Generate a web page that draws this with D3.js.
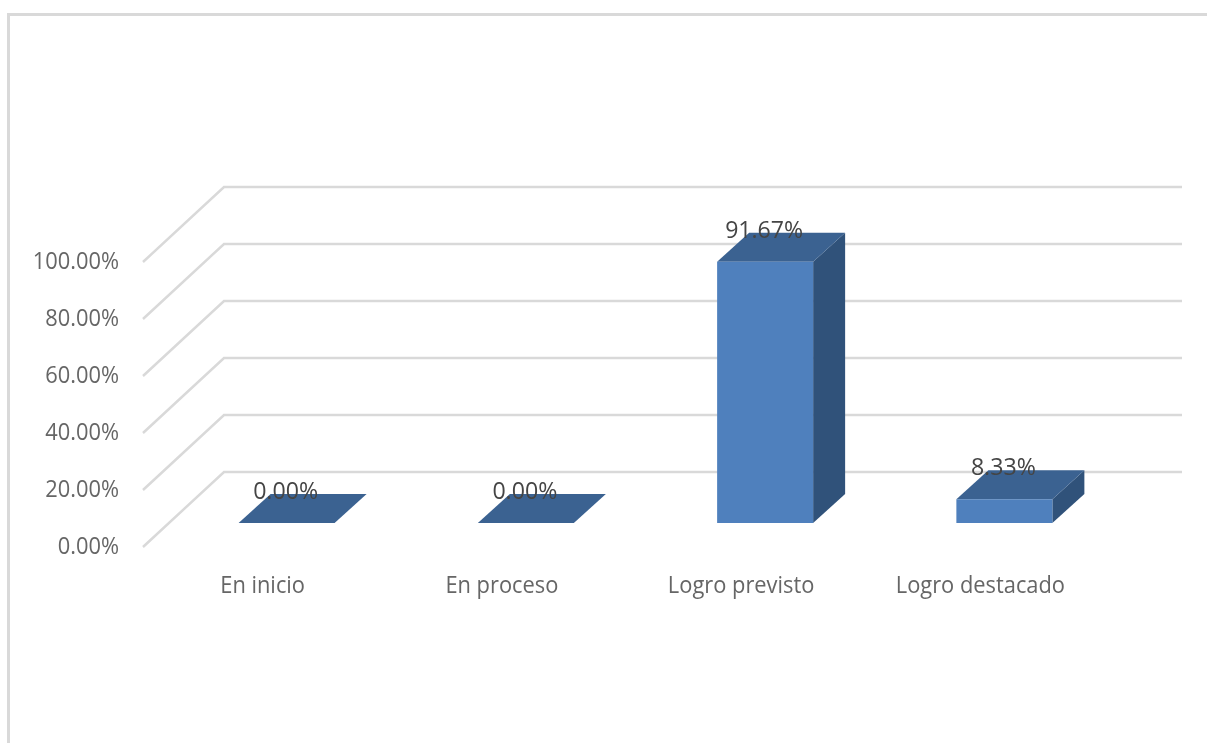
<!DOCTYPE html>
<html>
<head>
<meta charset="utf-8">
<script src="https://cdn.jsdelivr.net/npm/d3@7"></script>
<style>
  html, body { margin: 0; padding: 0; background: #fff; overflow: hidden; }
  text { font-family: "Open Sans", "Noto Sans", sans-serif; font-size: 23px; filter: url(#soft); }
  .axis text { fill: #666666; }
  .value-label { fill: #444444; }
</style>
</head>
<body>
<div id="chart"></div>
<script>
const categories = ["En inicio", "En proceso", "Logro previsto", "Logro destacado"];
const values = [0, 0, 91.67, 8.33];
const yTicks = [0, 20, 40, 60, 80, 100];

const svg = d3.select("#chart").append("svg")
  .attr("width", 1207)
  .attr("height", 743);

// Reference is a slightly blurry upscaled screenshot
svg.append("defs").append("filter")
  .attr("id", "soft")
  .append("feGaussianBlur")
  .attr("stdDeviation", 0.4);

// Picture frame
svg.append("path")
  .attr("d", "M8.5,743V14.5H1207")
  .attr("fill", "none")
  .attr("stroke", "#d9d9d9")
  .attr("stroke-width", 3);

// Scales, front plane of the 3D box
const x = d3.scaleBand()
  .domain(categories)
  .range([143, 1100]);

const y = d3.scaleLinear()
  .domain([0, 100])
  .range([547, 262]);

// Depth offsets of the 3D box and the bars
const wall = { dx: 81, dy: -75 };
const barDepth = { dx: 32, dy: -29 };
const barWidth = 96;
const barShiftX = 24;
const barShiftY = -24;

// Gridlines: side wall and back wall
svg.append("g")
  .selectAll("path")
  .data(yTicks)
  .join("path")
  .attr("d", d => `M143,${y(d)}l${wall.dx},${wall.dy}H1182`)
  .attr("fill", "none")
  .attr("stroke", "#d9d9d9")
  .attr("stroke-width", 2.5);

// Y axis
const yAxis = svg.append("g")
  .attr("class", "axis")
  .attr("transform", "translate(119,-0.5)")
  .call(d3.axisLeft(y)
    .tickValues(yTicks)
    .tickSize(0)
    .tickPadding(0)
    .tickFormat(d => d3.format(".2f")(d) + "%"));
yAxis.select(".domain").remove();
yAxis.selectAll("text")
  .style("font-size", "23px")
  .attr("textLength", function() { return this.getComputedTextLength() * 0.95; })
  .attr("lengthAdjust", "spacingAndGlyphs");

// Category axis
const xAxis = svg.append("g")
  .attr("class", "axis")
  .attr("transform", "translate(0,576.7)")
  .call(d3.axisBottom(x).tickSize(0).tickPadding(0));
xAxis.select(".domain").remove();
xAxis.selectAll("text")
  .style("font-size", "23px")
  .attr("textLength", function() { return this.getComputedTextLength() * 0.95; })
  .attr("lengthAdjust", "spacingAndGlyphs");

// Bars
const bars = svg.append("g").selectAll("g")
  .data(categories.map((c, i) => ({ c, v: values[i] })))
  .join("g");

bars.each(function(d) {
  const g = d3.select(this);
  const x0 = x(d.c) + (x.bandwidth() - barWidth) / 2 + barShiftX;
  const x1 = x0 + barWidth;
  const floor = y(0) + barShiftY;
  const top = y(d.v) + barShiftY;

  // Side face
  g.append("path")
    .attr("d", `M${x1},${floor}V${top}l${barDepth.dx},${barDepth.dy}V${floor + barDepth.dy}Z`)
    .attr("fill", "#30527a");
  // Top face
  g.append("path")
    .attr("d", `M${x0},${top}H${x1}l${barDepth.dx},${barDepth.dy}H${x0 + barDepth.dx}Z`)
    .attr("fill", "#3b6291");
  // Front face
  g.append("rect")
    .attr("x", x0)
    .attr("y", top)
    .attr("width", barWidth)
    .attr("height", floor - top)
    .attr("fill", "#4f80bd");

  // Value label
  const label = d3.format(".2f")(d.v) + "%";
  g.append("text")
    .attr("class", "value-label")
    .attr("x", x0 + 47)
    .attr("y", top - 24)
    .attr("text-anchor", "middle")
    .attr("textLength", label.length * 13)
    .attr("lengthAdjust", "spacingAndGlyphs")
    .text(label);
});
</script>
</body>
</html>
